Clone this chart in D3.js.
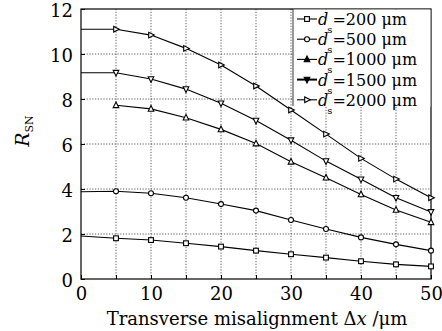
<!DOCTYPE html>
<html>
<head>
<meta charset="utf-8">
<script src="https://cdn.jsdelivr.net/npm/d3@7"></script>
<style>
  html, body { margin: 0; padding: 0; background: #fff; }
  svg text { font-family: "DejaVu Serif", "Liberation Serif", serif; fill: #000; }
</style>
</head>
<body>
<svg id="chart" width="442" height="331"></svg>
<script>
// Transverse misalignment (µm)
const misalignment = [0, 5, 10, 15, 20, 25, 30, 35, 40, 45, 50];

// R_SN for each core diameter d_s
const rsn200  = [1.91, 1.81, 1.73, 1.59, 1.44, 1.26, 1.10, 0.95, 0.79, 0.65, 0.56];
const rsn500  = [3.88, 3.90, 3.81, 3.61, 3.33, 3.04, 2.62, 2.22, 1.85, 1.54, 1.26];
const rsn1000 = [null, 7.72, 7.56, 7.17, 6.65, 6.02, 5.21, 4.50, 3.76, 3.07, 2.52];
const rsn1500 = [9.17, 9.17, 8.89, 8.44, 7.81, 7.04, 6.17, 5.24, 4.43, 3.61, 2.98];
const rsn2000 = [11.10, 11.10, 10.84, 10.25, 9.51, 8.58, 7.51, 6.44, 5.36, 4.44, 3.61];

const diameters = ["200", "500", "1000", "1500", "2000"];
const xTicks = [0, 10, 20, 30, 40, 50];
const yTicks = [0, 2, 4, 6, 8, 10, 12];

const seriesValues = [rsn200, rsn500, rsn1000, rsn1500, rsn2000];
const markerShapes = ["square", "circle", "triUp", "triDown", "triRight"];

const serif = "DejaVu Serif";
const svg = d3.select("#chart");
const plot = { left: 81, right: 431, top: 9, bottom: 279 };

const x = d3.scaleLinear().domain([0, 50]).range([plot.left, plot.right]);
const y = d3.scaleLinear().domain([0, 12]).range([plot.bottom, plot.top]);

// grid
const grid = svg.append("g");
grid.selectAll("line.v").data(d3.range(5, 50, 5)).join("line")
  .attr("x1", d => x(d)).attr("x2", d => x(d))
  .attr("y1", plot.top).attr("y2", plot.bottom)
  .attr("stroke", "#333").attr("stroke-width", 0.8)
  .attr("stroke-dasharray", "1.2,1.6");
grid.selectAll("line.h").data(yTicks.slice(1, -1)).join("line")
  .attr("x1", plot.left).attr("x2", plot.right)
  .attr("y1", d => y(d)).attr("y2", d => y(d))
  .attr("stroke", "#333").attr("stroke-width", 0.8)
  .attr("stroke-dasharray", "1.2,1.6");

// axes (ticks pointing inward)
const xAxis = d3.axisBottom(x).tickValues(d3.range(0, 51, 5)).tickSize(-4)
  .tickFormat(d => xTicks.includes(d) ? d : "");
const gx = svg.append("g").attr("transform", `translate(0,${plot.bottom})`).call(xAxis);
gx.attr("font-family", serif);
gx.select(".domain").remove();
gx.selectAll("text").attr("font-size", 18).attr("dy", "1em").style("font-family", serif);

const yAxis = d3.axisLeft(y).tickValues(yTicks).tickSize(-4).tickPadding(8);
const gy = svg.append("g").attr("transform", `translate(${plot.left},0)`).call(yAxis);
gy.attr("font-family", serif);
gy.select(".domain").remove();
gy.selectAll("text").attr("font-size", 18).attr("dy", "0.4em").style("font-family", serif);
svg.selectAll(".tick line").attr("stroke", "#000");

// frame
svg.append("rect")
  .attr("x", plot.left).attr("y", plot.top)
  .attr("width", plot.right - plot.left).attr("height", plot.bottom - plot.top)
  .attr("fill", "none").attr("stroke", "#000").attr("stroke-width", 1.2);

// marker symbols
function drawMarker(g, shape, cx, cy, filled) {
  const s = 2.8;
  let el;
  if (shape === "square") {
    el = g.append("rect").attr("x", cx - s + 0.4).attr("y", cy - s + 0.4)
      .attr("width", 2 * s - 0.8).attr("height", 2 * s - 0.8);
  } else if (shape === "circle") {
    el = g.append("circle").attr("cx", cx).attr("cy", cy).attr("r", s - 0.3);
  } else {
    let pts;
    if (shape === "triUp") pts = [[cx, cy - s - 0.5], [cx - s, cy + s - 0.5], [cx + s, cy + s - 0.5]];
    else if (shape === "triDown") pts = [[cx, cy + s + 0.5], [cx - s, cy - s + 0.5], [cx + s, cy - s + 0.5]];
    else pts = [[cx + s + 0.5, cy], [cx - s + 0.5, cy - s], [cx - s + 0.5, cy + s]];
    el = g.append("polygon").attr("points", pts.map(p => p.join(",")).join(" "));
  }
  el.attr("fill", filled ? "#000" : "#fff").attr("stroke", "#000").attr("stroke-width", 1.1);
}

const line = d3.line()
  .defined(d => d[1] !== null)
  .x(d => x(d[0])).y(d => y(d[1]));

// legend: white panel in the top-right corner with a left edge line
const legend = svg.append("g");
legend.append("rect")
  .attr("x", 293).attr("y", plot.top + 0.6).attr("width", plot.right - 293 - 0.6).attr("height", 97)
  .attr("fill", "#fff");
legend.append("line")
  .attr("x1", 293).attr("x2", 293).attr("y1", plot.top).attr("y2", plot.top + 97)
  .attr("stroke", "#000").attr("stroke-width", 0.8);
diameters.forEach((dm, i) => {
  const cy = 19 + i * 20.2;
  legend.append("line").attr("x1", 297).attr("x2", 317).attr("y1", cy).attr("y2", cy)
    .attr("stroke", "#000").attr("stroke-width", i === 3 ? 2 : 1.1);
  drawMarker(legend, markerShapes[i], 307, cy, i === 2 || i === 3);
  const t = legend.append("text")
    .attr("x", 318).attr("y", cy + 6)
    .attr("font-size", 16).style("font-family", serif);
  t.append("tspan").attr("font-style", "italic").text("d");
  t.append("tspan").attr("font-size", 10).attr("dy", 8).attr("dx", -1).text("s");
  t.append("tspan").attr("dy", -8).attr("dx", 0).text("=" + dm + " \u03bcm");
});

// data series drawn over the legend panel's lower edge
const series = svg.append("g");
seriesValues.forEach((vals, i) => {
  const pts = misalignment.map((m, j) => [m, vals[j]]);
  series.append("path").datum(pts)
    .attr("d", line).attr("fill", "none")
    .attr("stroke", "#000").attr("stroke-width", 1.1);
  pts.forEach(p => {
    if (p[1] !== null && p[0] > 0) drawMarker(series, markerShapes[i], x(p[0]), y(p[1]), false);
  });
});

// axis titles
const xt = svg.append("text")
  .attr("x", 257).attr("y", 325).attr("text-anchor", "middle")
  .attr("font-size", 18).style("font-family", serif);
xt.append("tspan").text("Transverse misalignment \u0394");
xt.append("tspan").attr("font-style", "italic").text("x");
xt.append("tspan").text(" /\u03bcm");

const yt = svg.append("text")
  .attr("transform", "translate(29,131) rotate(-90)")
  .attr("text-anchor", "middle").attr("font-size", 19).style("font-family", serif);
yt.append("tspan").attr("font-style", "italic").text("R");
yt.append("tspan").attr("font-size", 11).attr("dy", 4).text("SN");
</script>
</body>
</html>
